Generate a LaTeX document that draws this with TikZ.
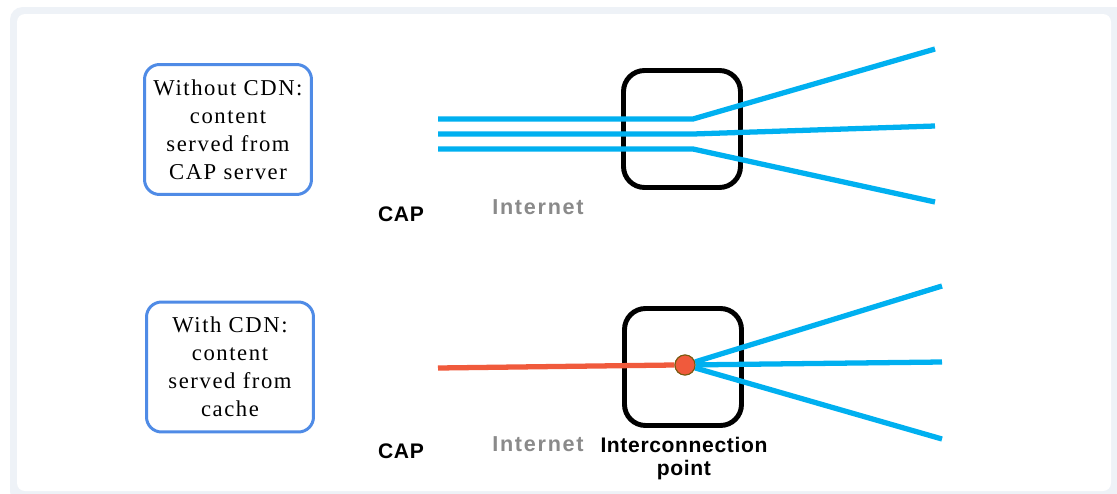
\documentclass[tikz,border=0pt]{standalone}
\usepackage{fontspec}
\setmainfont{Liberation Serif}
\setsansfont{Liberation Sans}
\newfontfamily\boxfont[LetterSpace=7]{Liberation Serif}
\newfontfamily\labelfont[LetterSpace=3]{Liberation Sans}
\newfontfamily\netfont[LetterSpace=8]{Liberation Sans}
\usepackage{tikz}
\usetikzlibrary{positioning}

\definecolor{framegray}{HTML}{EEF2F7}
\definecolor{boxblue}{HTML}{4F8BE6}
\definecolor{linkblue}{HTML}{00B0F0}
\definecolor{cachered}{HTML}{F05A3C}
\definecolor{dotrim}{HTML}{7A5A10}
\definecolor{netgray}{HTML}{8A8A8A}

\tikzset{
	casebox/.style={draw=boxblue, line width=1.7pt, rounded corners=0.3cm, minimum width=3.34cm, minimum height=2.6cm, inner sep=0pt, align=center, font=\boxfont\fontsize{12.9}{16}\selectfont},
	ixbox/.style={draw=black, line width=2.8pt, rounded corners=0.42cm, minimum width=2.34cm, minimum height=2.34cm, inner sep=0pt},
	tag/.style={font=\labelfont\bfseries\fontsize{12}{13}\selectfont, inner sep=0pt, align=center},
	nettag/.style={font=\netfont\bfseries\fontsize{12.3}{13}\selectfont, inner sep=0pt, text=netgray},
	cachedot/.style={circle, fill=cachered, draw=dotrim, line width=0.6pt, minimum size=0.4cm, inner sep=0pt},
	link/.style={draw=linkblue, line width=3pt},
	redlink/.style={draw=cachered, line width=3pt},
}

\begin{document}
\begin{tikzpicture}[x=0.02cm, y=-0.02cm]
	\clip (0,0) rectangle (1117,494);
	\fill[framegray, rounded corners=0.25cm] (10,7) rectangle (1130,504);
	\fill[white, rounded corners=0.16cm] (17,14) rectangle (1111,491);

	\node[casebox] (nocdn) at (228,129.5) {Without CDN:\\content\\served from\\CAP server};
	\node[casebox] (withcdn) at (230,367) {With CDN:\\content\\served from\\cache};

	\node[ixbox] (ixtop) at (682,129) {};
	\node[ixbox] (ixbot) at (683,367) {};

	\coordinate (srcA) at (438,119);
	\coordinate (srcB) at (438,134);
	\coordinate (srcC) at (438,149);
	\coordinate (bendA) at (693,119);
	\coordinate (bendB) at (693,134);
	\coordinate (bendC) at (693,149);
	\coordinate (userA) at (935,49);
	\coordinate (userB) at (935,126);
	\coordinate (userC) at (935,202);
	\draw[link] (srcA) -- (bendA) -- (userA);
	\draw[link] (srcB) -- (bendB) -- (userB);
	\draw[link] (srcC) -- (bendC) -- (userC);

	\coordinate (srcD) at (438,368);
	\coordinate (userD) at (942,286);
	\coordinate (userE) at (942,362);
	\coordinate (userF) at (942,439);
	\node[cachedot] (cache) at (685,365) {};
	\draw[redlink] (srcD) -- (cache.west);
	\draw[link] (cache) -- (userD);
	\draw[link] (cache) -- (userE);
	\draw[link] (cache) -- (userF);
	\node[cachedot] at (cache) {};

	\node[tag] (captop) at (401,214) {CAP};
	\node[nettag] (nettop) at (538,207) {Internet};
	\node[tag] (capbot) at (401,451) {CAP};
	\node[nettag] (netbot) at (538,444) {Internet};
	\node[tag, anchor=north] (ixlabel) at (684,437) {Interconnection\\point};
\end{tikzpicture}
\end{document}
